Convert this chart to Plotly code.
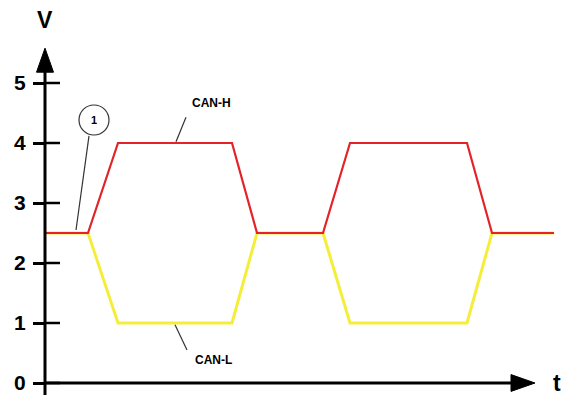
"""CAN bus differential signal levels (CAN-H / CAN-L) sketch."""

import plotly.graph_objects as go

# time points (arbitrary units) and bus levels in volts
t = [0, 4.3, 7.3, 18.7, 21.2, 27.8, 30.5, 42.2, 44.7, 50.9]
can_h = [2.5, 2.5, 4, 4, 2.5, 2.5, 4, 4, 2.5, 2.5]
can_l = [2.5, 2.5, 1, 1, 2.5, 2.5, 1, 1, 2.5, 2.5]
v_ticks = [0, 1, 2, 3, 4, 5]

RED = "#e42329"
YELLOW = "#f4ee3a"
FONT = "Liberation Sans"

fig = go.Figure()
fig.add_trace(go.Scatter(x=t, y=can_l, mode="lines",
                         line=dict(color=YELLOW, width=3), hoverinfo="skip"))
fig.add_trace(go.Scatter(x=t, y=can_h, mode="lines",
                         line=dict(color=RED, width=2.2), hoverinfo="skip"))

shapes = []
# axes lines
shapes.append(dict(type="line", x0=0, x1=0, y0=-0.2, y1=5.25,
                   line=dict(color="black", width=3)))
shapes.append(dict(type="line", x0=0, x1=47, y0=0, y1=0,
                   line=dict(color="black", width=3)))
# arrow heads
shapes.append(dict(type="path", path="M -0.85,5.18 L 0,5.58 L 0.85,5.18 Z",
                   fillcolor="black", line=dict(color="black", width=1)))
shapes.append(dict(type="path", path="M 46.6,0.14 L 49,0 L 46.6,-0.14 Z",
                   fillcolor="black", line=dict(color="black", width=1)))
# inner half of the tick marks (outer half comes from the axis ticks)
for v in v_ticks:
    shapes.append(dict(type="line", x0=0, x1=1.5, y0=v, y1=v,
                       line=dict(color="black", width=2.5)))
# leader lines for labels
lead = dict(color="#333", width=1.2)
shapes.append(dict(type="line", x0=14.1, y0=4.43, x1=13.1, y1=4.02, line=lead))
shapes.append(dict(type="line", x0=13.0, y0=0.97, x1=14.2, y1=0.55, line=lead))
shapes.append(dict(type="line", x0=4.4, y0=4.12, x1=3.1, y1=2.55, line=lead))
shapes.append(dict(type="circle", x0=3.4, x1=6.4, y0=4.133, y1=4.633,
                   line=dict(color="#333", width=1.2), fillcolor="white"))

bold = dict(family=FONT, weight="bold", color="black")
annotations = [
    dict(x=16.6, y=4.67, text="CAN-H", showarrow=False, font=dict(bold, size=12)),
    dict(x=16.8, y=0.38, text="CAN-L", showarrow=False, font=dict(bold, size=12)),
    dict(x=4.9, y=4.383, text="1", showarrow=False, font=dict(bold, size=11)),
    dict(x=0, y=6.05, text="V", showarrow=False, font=dict(bold, size=23)),
    dict(x=51.2, y=0, text="t", showarrow=False, font=dict(bold, size=23)),
]

fig.update_layout(
    width=573, height=399,
    margin=dict(l=0, r=0, t=0, b=0),
    paper_bgcolor="white", plot_bgcolor="white",
    showlegend=False,
    shapes=shapes,
    annotations=annotations,
    xaxis=dict(range=[-4.5, 52.8], visible=False, fixedrange=True),
    yaxis=dict(range=[-16 / 60, 383 / 60], anchor="free", position=45 / 573,
               tickvals=v_ticks, ticks="outside", ticklen=12, tickwidth=2.5,
               tickcolor="black", showline=False, showgrid=False,
               zeroline=False, ticklabelstandoff=3,
               tickfont=dict(bold, size=21), fixedrange=True),
)

# page body has a default margin; drop it so the chart fills the window
fig.write_html("out.html", config={"displayModeBar": False},
               post_script="document.body.style.margin='0';"
                           "document.body.style.overflow='hidden';")
